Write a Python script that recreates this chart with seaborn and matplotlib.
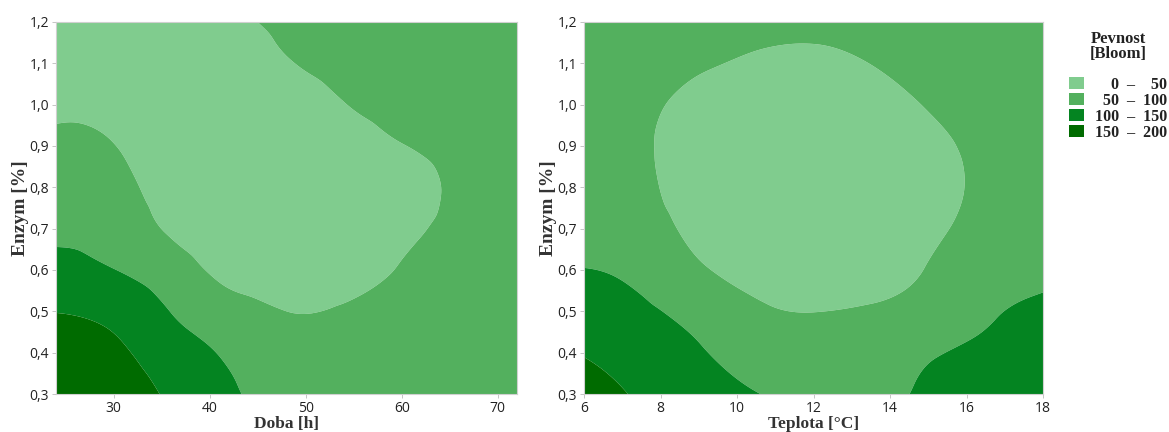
import numpy as np
import pandas as pd
import matplotlib
matplotlib.use("Agg")
import matplotlib.pyplot as plt
import matplotlib.tri as mtri
from matplotlib.colors import ListedColormap, BoundaryNorm
from matplotlib.patches import Patch
import seaborn as sns

# osa y (spolecna pro oba grafy)
enzym = [0.3, 0.4, 0.5, 0.6, 0.7, 0.8, 0.9, 1.0, 1.1, 1.2]
enzym_popisky = ["0,3", "0,4", "0,5", "0,6", "0,7", "0,8", "0,9", "1,0", "1,1", "1,2"]

# levy graf: doba [h] x enzym [%]
doba = [24, 30, 36, 42, 48, 54, 60, 66, 72]
pevnost_doba = [
    [190, 176, 142, 106, 84, 72, 68, 70, 75],
    [172, 160, 123, 94, 67, 62, 64, 68, 74],
    [149, 135, 99, 69, 50, 53, 59, 65, 72],
    [118, 101, 73, 38, 32, 37, 52, 61, 69],
    [88, 79, 44, 27, 20, 26, 43, 57, 66],
    [70, 64, 32, 20, 15, 23, 38, 55, 65],
    [57, 51, 26, 17, 15, 32, 49, 59, 68],
    [45, 40, 23, 18, 26, 49, 60, 67, 74],
    [36, 33, 25, 26, 47, 61, 67, 74, 80],
    [30, 30, 32, 42, 58, 68, 75, 80, 86],
]

# pravy graf: teplota [°C] x enzym [%]
teplota = [6, 7.5, 9, 10.5, 12, 13.5, 15, 16.5, 18]
pevnost_teplota = [
    [175, 143, 118, 101, 90, 88, 108, 128, 145],
    [147, 126, 104, 82, 72, 71, 94, 110, 127],
    [122, 107, 84, 57, 49.5, 53, 66, 93, 108],
    [101, 88, 56, 38, 34, 37, 52, 77, 92],
    [86, 68, 40, 28, 24, 27, 42, 64, 82],
    [76, 58, 34, 24, 20, 23, 38, 57, 76],
    [72, 55, 34, 25, 21, 26, 42, 58, 76],
    [72, 58, 40, 32, 28, 35, 52, 64, 80],
    [76, 64, 54, 46, 43, 50.5, 64, 72, 86],
    [82, 72, 64, 58, 57, 64, 75, 80, 93],
]

urovne = [0, 50, 100, 150, 200]
legenda_popisky = ["\u2007\u20070  \u2013  \u200750", "\u200750  \u2013  100",
                   "100  \u2013  150", "150  \u2013  200"]

sns.set_theme(style="white")
barvy = sns.color_palette(["#80cc8e", "#53b05e", "#048421", "#006b00"])
cmap = ListedColormap(barvy)
cmap.set_under(barvy[0])
cmap.set_over(barvy[-1])
norm = BoundaryNorm(urovne, cmap.N)

fig = plt.figure(figsize=(11.69, 4.32), dpi=100)
ax1 = fig.add_axes([56 / 1169, 38 / 432, 461 / 1169, 372 / 432])
ax2 = fig.add_axes([584 / 1169, 38 / 432, 459 / 1169, 372 / 432])

serif = {"family": "Liberation Serif", "weight": "bold"}

grafy = [
    (ax1, doba, pevnost_doba, "Doba [h]", [30, 40, 50, 60, 70]),
    (ax2, teplota, pevnost_teplota, "Teplota [°C]", [6, 8, 10, 12, 14, 16, 18]),
]

for ax, x, z, popis, xt in grafy:
    df = pd.DataFrame(z, index=enzym, columns=x)
    X, Y = np.meshgrid(df.columns.values, df.index.values)
    sx = max(x) - min(x)
    # hladke vrstevnice: kubicke zjemneni site primo v matplotlib
    tri = mtri.Triangulation(X.ravel() / sx, Y.ravel() / 0.9)
    interp = mtri.CubicTriInterpolator(tri, df.values.ravel(), kind="min_E")
    tri_f, z_f = mtri.UniformTriRefiner(tri).refine_field(
        df.values.ravel(), triinterpolator=interp, subdiv=4)
    tri_f.x = tri_f.x * sx
    tri_f.y = tri_f.y * 0.9
    ax.tricontourf(tri_f, z_f, levels=urovne, cmap=cmap, norm=norm, extend="both", antialiased=True)
    ax.set_xlim(min(x), max(x))
    ax.set_ylim(0.3, 1.2)
    ax.set_xticks(xt)
    ax.set_xticklabels([str(v) for v in xt], fontfamily="Open Sans", fontsize=10, color="#222222")
    ax.set_yticks(enzym)
    ax.set_yticklabels(enzym_popisky, fontfamily="Open Sans", fontsize=10, color="#222222")
    ax.tick_params(axis="both", length=3, width=0.6, color="#bbbbbb", pad=2, bottom=True, left=True)
    for s in ax.spines.values():
        s.set_color("#d0d0d0")
        s.set_linewidth(0.8)
    ax.set_xlabel(popis, fontdict=serif, fontsize=12.5, color="#333333", labelpad=0)
    ax.set_ylabel("Enzym [%]", fontdict=serif, fontsize=14, color="#333333", labelpad=0)

handles = [Patch(facecolor=c, edgecolor="none") for c in barvy]
leg = fig.legend(handles, legenda_popisky, loc="upper left",
                 bbox_to_anchor=(1058 / 1169, 1 - 20 / 432), frameon=False,
                 title="Pevnost\n[Bloom]\n", handlelength=0.9, handleheight=0.8,
                 handletextpad=0.7, labelspacing=0.0, borderpad=0.2,
                 prop={"family": "Liberation Serif", "weight": "bold", "size": 11.5})
leg.get_title().set_fontfamily("Liberation Serif")
leg.get_title().set_fontweight("bold")
leg.get_title().set_fontsize(12)
leg.get_title().set_multialignment("center")
leg.get_title().set_linespacing(0.9)
leg.get_title().set_color("#222222")
for t in leg.get_texts():
    t.set_color("#222222")

fig.savefig("out.png", dpi=100)
